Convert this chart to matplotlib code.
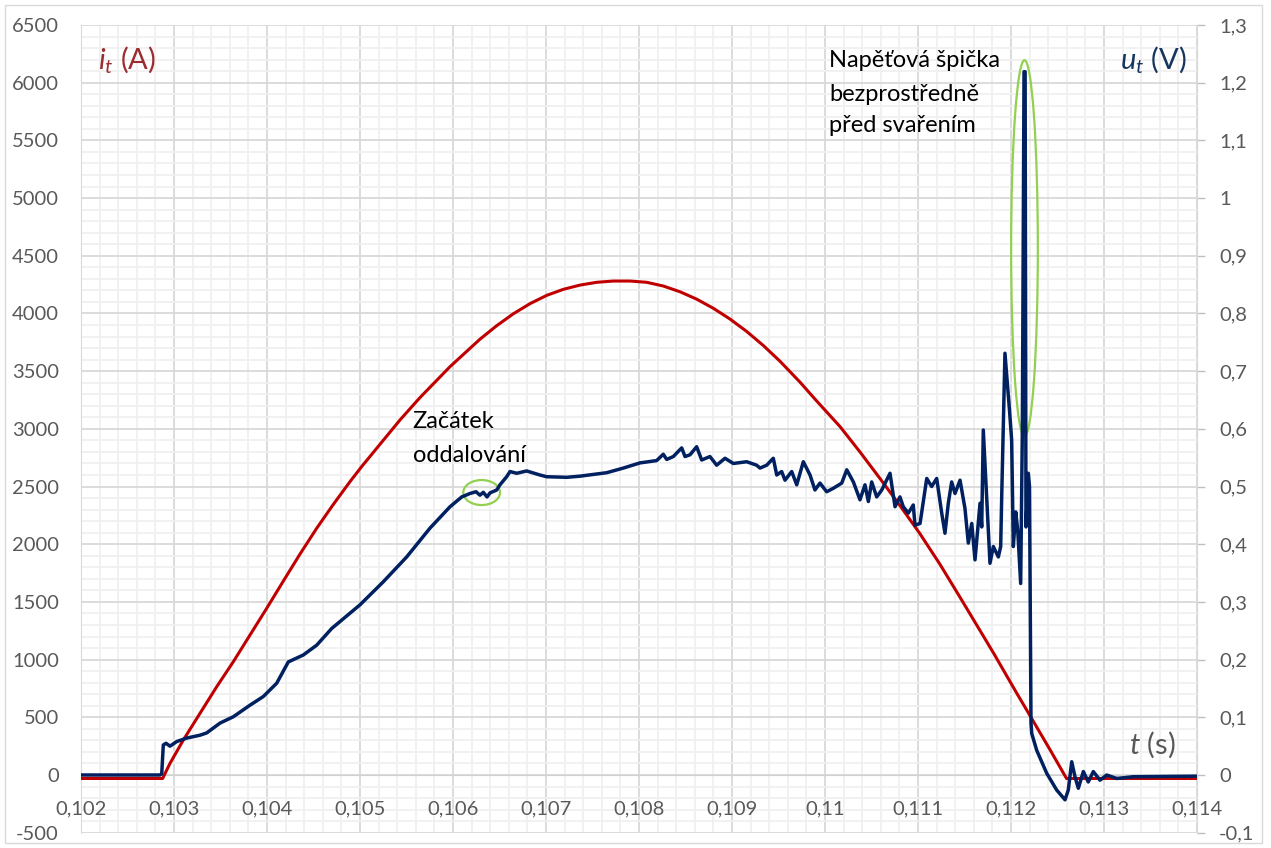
import matplotlib
matplotlib.use('Agg')
import matplotlib.pyplot as plt
from matplotlib.ticker import MultipleLocator, FuncFormatter
from matplotlib.patches import Ellipse, Rectangle

# current i_t (A)
red_t = [0.102000, 0.102878, 0.102957, 0.103100, 0.103280, 0.103459, 0.103638, 0.103817,
         0.103997, 0.104175, 0.104355, 0.104534, 0.104713, 0.104892, 0.105018, 0.105430,
         0.105645, 0.105968, 0.106290, 0.106470, 0.106648, 0.106828, 0.107008, 0.107186,
         0.107366, 0.107545, 0.107724, 0.107903, 0.108083, 0.108261, 0.108441, 0.108620,
         0.108799, 0.108978, 0.109158, 0.109337, 0.109516, 0.109731, 0.109911, 0.110161,
         0.110376, 0.110591, 0.110806, 0.111022, 0.111237, 0.111452, 0.111810, 0.112061,
         0.112204, 0.112419, 0.112597, 0.114000]
red_i = [-30, -30, 101, 303, 535, 765, 982, 1213,
         1445, 1680, 1915, 2138, 2345, 2542, 2673, 3077,
         3271, 3539, 3777, 3894, 3997, 4085, 4157, 4209,
         4246, 4270, 4281, 4281, 4270, 4238, 4188, 4124,
         4045, 3952, 3844, 3722, 3586, 3405, 3241, 3020,
         2800, 2570, 2335, 2090, 1825, 1540, 1060, 710,
         515, 220, -30, -30]

# voltage u_t (V)
blue_t = [0.102000, 0.102849, 0.102868, 0.102885, 0.102914, 0.102957, 0.103029, 0.103137,
          0.103280, 0.103352, 0.103495, 0.103638, 0.103817, 0.103960, 0.104104, 0.104229,
          0.104390, 0.104534, 0.104696, 0.105000, 0.105251, 0.105502, 0.105753, 0.105968,
          0.106094, 0.106183, 0.106247, 0.106290, 0.106326, 0.106366, 0.106398, 0.106470,
          0.106505, 0.106577, 0.106613, 0.106685, 0.106792, 0.106935, 0.107008, 0.107223,
          0.107366, 0.107653, 0.107831, 0.108011, 0.108190, 0.108261, 0.108298, 0.108369,
          0.108459, 0.108495, 0.108548, 0.108620, 0.108674, 0.108763, 0.108835, 0.108925,
          0.109014, 0.109158, 0.109265, 0.109301, 0.109373, 0.109444, 0.109481, 0.109534,
          0.109570, 0.109642, 0.109696, 0.109767, 0.109839, 0.109892, 0.109946, 0.110018,
          0.110090, 0.110180, 0.110234, 0.110305, 0.110376, 0.110430, 0.110466, 0.110502,
          0.110556, 0.110610, 0.110699, 0.110753, 0.110806, 0.110842, 0.110896, 0.110949,
          0.110968, 0.111022, 0.111094, 0.111147, 0.111201, 0.111255, 0.111290, 0.111326,
          0.111362, 0.111398, 0.111452, 0.111505, 0.111541, 0.111578, 0.111613, 0.111667,
          0.111685, 0.111702, 0.111774, 0.111810, 0.111864, 0.111889, 0.111900, 0.111935,
          0.111981, 0.112007, 0.112025, 0.112051, 0.112072, 0.112104, 0.112122, 0.112140,
          0.112152, 0.112161, 0.112186, 0.112199, 0.112215, 0.112223, 0.112276, 0.112384,
          0.112491, 0.112581, 0.112616, 0.112653, 0.112688, 0.112724, 0.112778, 0.112831,
          0.112885, 0.112957, 0.113029, 0.113137, 0.113315, 0.114000]
blue_u = [0.000, 0.000, 0.002, 0.052, 0.055, 0.050, 0.058, 0.064,
          0.069, 0.073, 0.090, 0.101, 0.121, 0.136, 0.159, 0.196,
          0.208, 0.225, 0.254, 0.295, 0.335, 0.378, 0.428, 0.465,
          0.482, 0.488, 0.491, 0.485, 0.490, 0.482, 0.489, 0.494,
          0.503, 0.517, 0.526, 0.523, 0.527, 0.520, 0.517, 0.516,
          0.518, 0.524, 0.532, 0.541, 0.545, 0.556, 0.547, 0.552,
          0.567, 0.552, 0.555, 0.569, 0.546, 0.552, 0.537, 0.549,
          0.540, 0.543, 0.537, 0.532, 0.537, 0.549, 0.520, 0.526,
          0.511, 0.526, 0.503, 0.543, 0.520, 0.494, 0.506, 0.491,
          0.497, 0.506, 0.529, 0.508, 0.477, 0.503, 0.474, 0.508,
          0.482, 0.494, 0.523, 0.465, 0.482, 0.465, 0.454, 0.468,
          0.433, 0.436, 0.514, 0.500, 0.514, 0.454, 0.419, 0.471,
          0.508, 0.488, 0.511, 0.462, 0.402, 0.436, 0.373, 0.471,
          0.430, 0.598, 0.367, 0.396, 0.378, 0.396, 0.482, 0.731,
          0.638, 0.581, 0.396, 0.456, 0.425, 0.332, 0.598, 1.219,
          1.219, 0.430, 0.523, 0.500, 0.090, 0.072, 0.043, 0.003,
          -0.026, -0.043, -0.026, 0.023, -0.003, -0.023, 0.006, -0.012,
          0.006, -0.009, 0.000, -0.006, -0.003, -0.002]

plt.rcParams['font.family'] = ['Lato', 'DejaVu Sans']
plt.rcParams['mathtext.fontset'] = 'custom'
plt.rcParams['mathtext.it'] = 'Lato:italic'
plt.rcParams['mathtext.rm'] = 'Lato'

W, H = 1271, 848
fig = plt.figure(figsize=(W / 100, H / 100), dpi=100)
ax = fig.add_axes([81 / W, 1 - 832.7 / H, (1197 - 81) / W, (832.7 - 25) / H])
ax2 = ax.twinx()

ax.set_xlim(0.102, 0.114)
ax.set_ylim(-500, 6500)
ax2.set_ylim(-0.1, 1.3)

ax.xaxis.set_major_locator(MultipleLocator(0.001))
ax.xaxis.set_minor_locator(MultipleLocator(0.0002))
ax.yaxis.set_major_locator(MultipleLocator(500))
ax.yaxis.set_minor_locator(MultipleLocator(100))
ax2.yaxis.set_major_locator(MultipleLocator(0.1))

ax.xaxis.set_major_formatter(FuncFormatter(lambda v, p: ('%g' % (round(v, 4) + 0.0)).replace('.', ',')))
ax.yaxis.set_major_formatter(FuncFormatter(lambda v, p: '%d' % round(v)))
ax2.yaxis.set_major_formatter(FuncFormatter(lambda v, p: ('%g' % (round(v, 2) + 0.0)).replace('.', ',')))

ax.grid(which='major', color='#d9d9d9', lw=1.3)
ax.grid(which='minor', color='#f0f0f0', lw=1.3)
ax.set_axisbelow(True)

ax.tick_params(axis='both', which='both', length=0, labelsize=14.5, labelcolor='#595959')
ax.tick_params(axis='y', pad=16)
ax.tick_params(axis='x', labelbottom=False)

# x labels drawn by the twin axes so they sit above the grid
ax2.xaxis.set_visible(True)
ax2.tick_params(axis='x', which='both', length=0, labelsize=14.5, labelcolor='#595959',
                labelbottom=True, labeltop=False, pad=18)
ax2.tick_params(axis='y', length=6, width=1, color='#bfbfbf', direction='out',
                pad=10, labelsize=14.5, labelcolor='#595959')

for s in ['top', 'right']:
    ax.spines[s].set_visible(False)
ax.spines['left'].set_color('#d9d9d9')
ax.spines['bottom'].set_position(('data', 0))
ax.spines['bottom'].set_color('#d0d0d0')
for s in ['top', 'left']:
    ax2.spines[s].set_visible(False)
ax2.spines['bottom'].set_position(('data', 0))
ax2.spines['bottom'].set_visible(False)
ax2.spines['right'].set_color('#d9d9d9')

ax.plot(red_t, red_i, color='#C00000', lw=2.2, zorder=3)
ax2.add_patch(Ellipse((0.112145, 0.913), 0.000287, 0.652, fill=False, ec='#92D050', lw=1.6, zorder=2))
ax2.add_patch(Ellipse((0.106308, 0.4896), 0.000395, 0.0433, fill=False, ec='#92D050', lw=1.6, zorder=2))
ax2.plot(blue_t, blue_u, color='#002060', lw=2.5, zorder=3)

# axis unit labels
fig.text(98 / W, 1 - 68.3 / H, r'$i_t$ (A)', color='#9B2D30', fontsize=21, va='baseline')
fig.text(1187 / W, 1 - 68.3 / H, r'$u_t$ (V)', color='#17365D', fontsize=21, va='baseline', ha='right')
fig.text(1176 / W, 1 - 753.3 / H, r'$t$ (s)', color='#595959', fontsize=21, va='baseline', ha='right')

# annotations
for txt, y in [('Napěťová špička', 66.7), ('bezprostředně', 101), ('před svařením', 131.7)]:
    fig.text(829 / W, 1 - y / H, txt, fontsize=17, color='black', va='baseline')
for txt, y in [('Začátek', 428), ('oddalování', 461.7)]:
    fig.text(412.7 / W, 1 - y / H, txt, fontsize=17, color='black', va='baseline')

fig.patches.append(Rectangle((5 / W, 5 / H), (1262 - 5) / W, (843 - 5) / H, transform=fig.transFigure,
                             fill=False, ec='#d9d9d9', lw=1))

fig.savefig('out.png', dpi=100)
